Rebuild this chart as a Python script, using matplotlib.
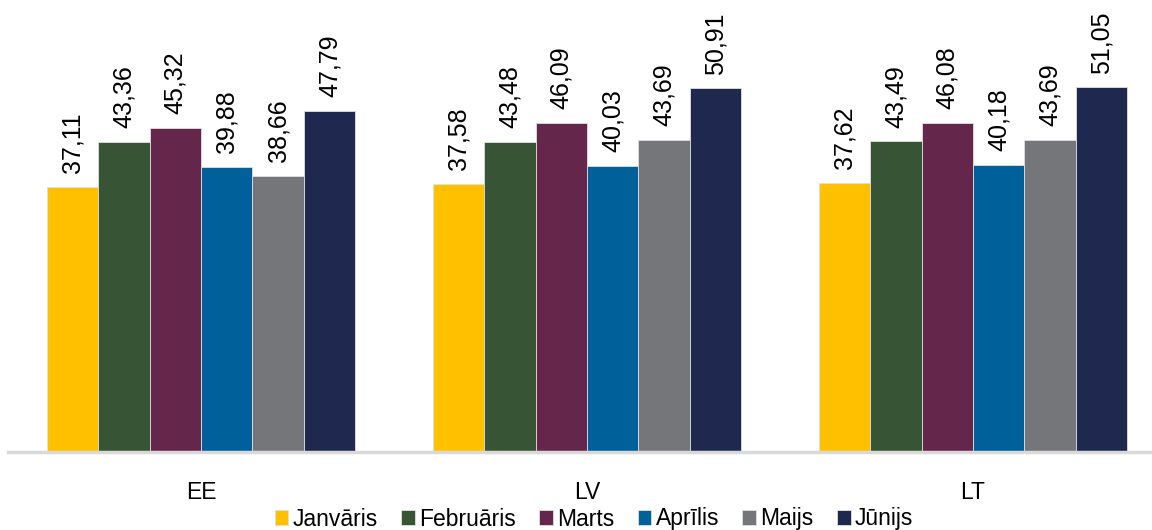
import numpy as np
from matplotlib import pyplot as plt

plt.rcParams['font.family'] = ['Liberation Sans', 'DejaVu Sans']

# countries and months
countries = ['EE', 'LV', 'LT']
months = ['Janvāris', 'Februāris', 'Marts', 'Aprīlis', 'Maijs', 'Jūnijs']
colors = ['#FFC000', '#375534', '#65264C', '#00609A', '#75767A', '#1F284E']

# values per month (EE, LV, LT)
jan = [37.11, 37.58, 37.62]
feb = [43.36, 43.48, 43.49]
mar = [45.32, 46.09, 46.08]
apr = [39.88, 40.03, 40.18]
mai = [38.66, 43.69, 43.69]
jun = [47.79, 50.91, 51.05]
series = [jan, feb, mar, apr, mai, jun]

fig = plt.figure(figsize=(11.52, 5.30), dpi=100)
ax = fig.add_axes([8 / 1152, 1 - 452 / 530, 1 - 8 / 1152, 452 / 530])

x = np.arange(len(countries))
w = 0.8 / len(months)
for i, (name, vals) in enumerate(zip(months, series)):
    pos = x - 0.4 + w * (i + 0.5)
    ax.bar(pos, vals, width=w, color=colors[i], edgecolor='#e0e0e0',
           linewidth=0.6, label=name)
    for px, v in zip(pos, vals):
        ax.annotate(f'{v:.2f}'.replace('.', ','), (px, v), xytext=(0, 10),
                    textcoords='offset points', rotation=90, ha='center',
                    va='bottom', fontsize=18)

ax.set_ylim(0, 63.3)
ax.set_xlim(-0.5, 2.5 - 14 / 386)
ax.set_yticks([])
ax.set_xticks(x, countries, fontsize=16.5)
ax.tick_params(axis='x', length=0, pad=21)
for s in ['top', 'right', 'left']:
    ax.spines[s].set_visible(False)
ax.spines['bottom'].set_color('#d9d9d9')
ax.spines['bottom'].set_linewidth(2.5)

fig.legend(loc='center', bbox_to_anchor=(594 / 1152, 1 - 519 / 530), ncol=6,
           frameon=False, fontsize=16.5, handlelength=0.6, handleheight=0.6,
           handletextpad=0.2, columnspacing=1.0, borderpad=0)

fig.savefig('out.png', dpi=100)
